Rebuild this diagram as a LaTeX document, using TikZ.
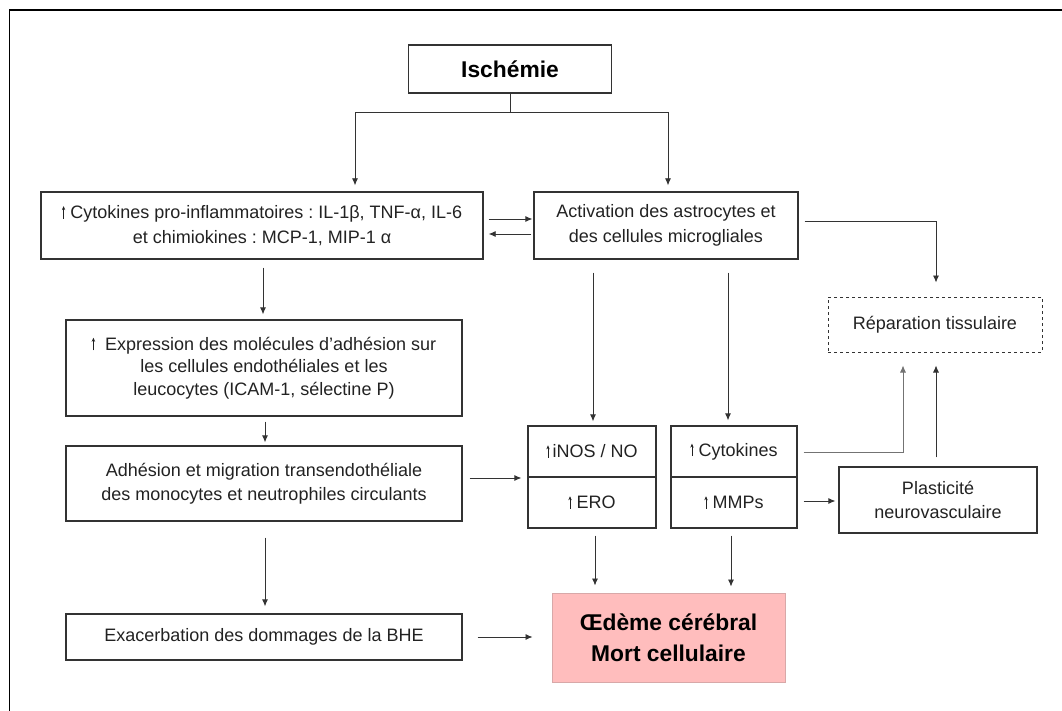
\documentclass[tikz,border=0pt]{standalone}
\usepackage{fontspec}
\setmainfont{Liberation Sans}
\usetikzlibrary{arrows.meta}
\definecolor{txt}{HTML}{222222}
\definecolor{edge}{HTML}{333333}
\definecolor{pinkfill}{HTML}{FFBDBD}
\definecolor{pinkedge}{HTML}{D8A8A8}
\frenchspacing
\newcommand\upar{\tikz[x=1pt,y=1pt,baseline=0pt]\draw[line width=0.6pt,txt,-{Stealth[length=4pt,width=3.4pt]}](0,0)--(0,12.5);}
\begin{document}
\begin{tikzpicture}[x=1pt,y=-1pt,
  box/.style={draw=edge, line width=1.3pt, text=txt, align=center, inner sep=0pt,
    font=\fontsize{18}{24.5}\selectfont},
  ln/.style={draw=edge, line width=0.8pt},
  arr/.style={ln, -{Latex[length=7pt,width=6pt]}}]
\useasboundingbox (0,0) rectangle (1062,711);
% outer frame
\draw[black, line width=1.6pt] (9.5,712) -- (9.5,10) -- (1063,10);
% nodes
\node[box, minimum width=203pt, minimum height=48pt, font=\fontsize{22.8}{26}\selectfont\bfseries, text=black] (isch) at (510,69) {Ischémie};
\node[box, minimum width=442pt, minimum height=67pt] (cyto) at (262,225.5)
  {\upar\ Cytokines pro-inflammatoires : IL-1β, TNF-α, IL-6\\ et chimiokines : MCP-1, MIP-1 α};
\node[box, minimum width=264pt, minimum height=67pt] (activ) at (666,225.5)
  {Activation des astrocytes et\\ des cellules microgliales};
\node[box, minimum width=396pt, minimum height=96pt, font=\fontsize{18}{22.5}\selectfont] (expr) at (264,368)
  {\upar\ \ Expression des molécules d’adhésion sur\\ les cellules endothéliales et les\\ leucocytes (ICAM-1, sélectine P)};
\node[box, minimum width=396pt, minimum height=75pt] (adh) at (264,483.5)
  {Adhésion et migration transendothéliale\\ des monocytes et neutrophiles circulants};
\node[box, minimum width=396pt, minimum height=46pt] (exac) at (264,637)
  {Exacerbation des dommages de la BHE};
\node[box, minimum width=128pt, minimum height=51pt] (inosA) at (592,451.5) {\upar\,iNOS / NO};
\node[box, minimum width=128pt, minimum height=51pt] (inosB) at (592,502.5) {\upar\ ERO};
\node[box, minimum width=126pt, minimum height=51pt] (cytA) at (734,451.5) {\upar\ Cytokines};
\node[box, minimum width=126pt, minimum height=51pt] (cytB) at (734,502.5) {\upar\ MMPs};
\draw[edge, line width=0.6pt] (inosA.south west) -- (inosA.south east);
\draw[edge, line width=0.6pt] (cytA.south west) -- (cytA.south east);
\node[box, minimum width=198pt, minimum height=66pt] (plast) at (938,500)
  {Plasticité\\ neurovasculaire};
\node[box, dashed, line width=1pt, minimum width=214pt, minimum height=55pt] (repar) at (935,324.5)
  {Réparation tissulaire};
\node[box, draw=pinkedge, line width=1pt, fill=pinkfill, text=black, minimum width=233pt, minimum height=89pt,
  font=\fontsize{22.8}{31}\selectfont\bfseries] (oed) at (668.5,637.5)
  {Œdème cérébral\\ Mort cellulaire};
% connectors
\coordinate (split) at (510,112);
\draw[ln] (isch.south) -- (split);
\draw[arr, shorten >=6pt] (split) -| (355,0 |- cyto.north);
\draw[arr, shorten >=6pt] (split) -| (668,0 |- activ.north);
\draw[arr, shorten <=5pt, shorten >=1pt] (cyto.east |- 0,219) -- (activ.west |- 0,219);
\draw[arr, shorten <=2pt, shorten >=5pt] (activ.west |- 0,234) -- (cyto.east |- 0,234);
\draw[arr, shorten <=8pt, shorten >=5pt] (cyto.south -| 263,0) -- (263,0 |- expr.north);
\draw[arr, shorten <=5pt, shorten >=3pt] (expr.south -| 265,0) -- (265,0 |- adh.north);
\draw[arr, shorten <=7pt, shorten >=6pt] (adh.east |- 0,478) -- (inosA.west |- 0,478);
\draw[arr, shorten <=16pt, shorten >=7pt] (adh.south -| 265,0) -- (265,0 |- exac.north);
\draw[arr, shorten <=15pt, shorten >=19pt] (exac.east) -- (oed.west |- exac.east);
\draw[arr, shorten <=13pt, shorten >=4pt] (activ.south -| 593,0) -- (593,0 |- inosA.north);
\draw[arr, shorten <=13pt, shorten >=5pt] (activ.south -| 728,0) -- (728,0 |- cytA.north);
\draw[arr, shorten <=7pt, shorten >=7pt] (inosB.south -| 595,0) -- (595,0 |- oed.north);
\draw[arr, shorten <=7pt, shorten >=6pt] (cytB.south -| 731,0) -- (731,0 |- oed.north);
\draw[arr, shorten <=6pt, shorten >=14pt] (activ.east |- 0,221) -| (936,0 |- repar.north);
\draw[arr, draw=black!55, shorten <=6pt, shorten >=13pt] (cytA.east |- 0,452) -| (903,0 |- repar.south);
\draw[arr, shorten <=6pt, shorten >=3pt] (cytB.east |- 0,501) -- (plast.west |- 0,501);
\draw[arr, shorten <=9pt, shorten >=13pt] (plast.north -| 936,0) -- (936,0 |- repar.south);
\end{tikzpicture}
\end{document}
